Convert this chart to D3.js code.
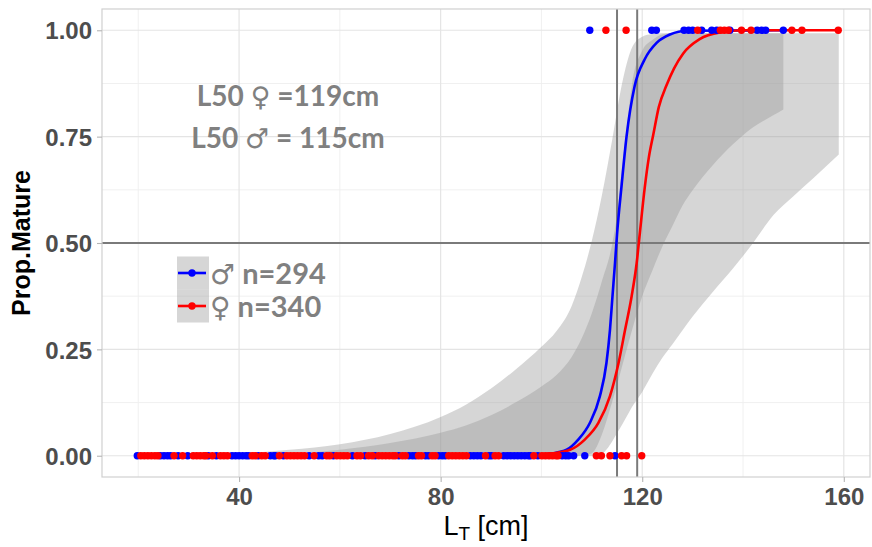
<!DOCTYPE html>
<html>
<head>
<meta charset="utf-8">
<script src="https://cdn.jsdelivr.net/npm/d3@7"></script>
<style>
  body { margin: 0; background: #ffffff; }
  svg { display: block; }
</style>
</head>
<body>
<svg id="chart" width="872" height="547"></svg>
<script>
// ---------------- data ----------------
const sexSymbols = ["♂", "♀"];
const sexColors = ["#0000ff", "#ff0000"];
const sampleSizes = [294, 340];
const l50Values = [119, 115];            // female, male (cm)
const l50Symbols = ["♀", "♂"];

const xTicks = [40, 80, 120, 160];
const xMinor = [20, 60, 100, 140];
const yTicks = [0, 0.25, 0.5, 0.75, 1];
const yMinor = [0.125, 0.375, 0.625, 0.875];

// immature individuals (Prop.Mature = 0), total length in cm
const maleImmature = [19.8, 24.4, 25.1, 25.8, 26.4, 27.9, 29.8, 33.9, 35.5, 38.6, 39.3, 40.0, 40.7, 41.4,
  41.9, 43.8, 46.2, 46.9, 47.2, 48.8, 53.9, 55.8, 56.5, 58.7, 62.5, 65.0, 67.0, 71.7, 73.7, 74.4, 75.0,
  77.0, 77.6, 79.6, 80.3, 80.9, 85.9, 86.6, 87.3, 88.0, 89.6, 90.1, 92.5, 93.2, 93.9, 94.6, 95.3, 96.0,
  96.7, 97.4, 97.8, 99.3, 104.1, 104.8, 105.4, 106.4, 108.6, 114.6];
const femaleImmature = [20.5, 21.2, 21.9, 22.6, 23.3, 23.9, 27.1, 28.8, 30.9, 31.6, 32.3, 33.0, 33.4,
  34.7, 36.3, 37.0, 37.7, 42.6, 43.2, 44.5, 45.2, 48.0, 49.5, 50.2, 50.9, 51.6, 52.3, 53.0, 54.9, 57.4,
  58.0, 59.4, 60.1, 60.8, 61.5, 63.4, 64.1, 65.7, 66.4, 67.7, 68.4, 69.1, 69.8, 70.5, 71.0, 72.4, 73.0,
  75.6, 76.2, 78.3, 78.9, 81.6, 82.3, 83.0, 83.7, 84.4, 85.1, 88.9, 90.8, 91.5, 98.5, 100.1, 100.8,
  101.5, 102.2, 102.9, 103.3, 110.9, 111.9, 113.6, 115.9, 116.9, 119.9];

// mature individuals (Prop.Mature = 1)
const maleMature = [109.6, 121.9, 122.8, 128.3, 129.2, 130, 131.8, 133.8, 134.8, 137.4, 142.8, 143.7, 144.5, 148];
const femaleMature = [112.8, 116.8, 131, 135.5, 136.3, 137.1, 139.7, 141.6, 149.7, 151.7, 158.9];

// fitted maturity ogives [LT, proportion]
const maleFit = [[20, 0], [90, 0], [98, 0.001], [102, 0.005], [105, 0.014], [107.3, 0.038], [109.6, 0.077],
  [111.6, 0.14], [112.9, 0.218], [113.6, 0.296], [114.1, 0.375], [114.6, 0.453], [115.0, 0.52],
  [115.9, 0.634], [116.9, 0.751], [118.5, 0.869], [120.5, 0.932], [122.9, 0.971], [125.5, 0.99],
  [129, 0.999], [148, 1]];
const femaleFit = [[20, 0], [90, 0], [98, 0.001], [102, 0.005], [105.7, 0.014], [108.6, 0.038],
  [111.3, 0.077], [113.6, 0.14], [115.3, 0.218], [116.6, 0.296], [117.9, 0.375], [118.9, 0.453],
  [119.5, 0.52], [120.5, 0.63], [121.3, 0.7], [122.2, 0.755], [123.3, 0.82], [124.8, 0.87],
  [126.3, 0.91], [128.1, 0.945], [131.4, 0.979], [135.4, 0.995], [140, 1], [159, 1]];

// confidence bands: LT, lower, upper
const maleBandLT = [20, 30, 40, 50, 60, 70, 80, 85, 90, 95, 100, 103, 106, 108, 110, 112, 114, 116, 118,
  120, 122, 124, 126, 128, 130, 134, 138, 142, 146, 148];
const maleBandLow = [0, 0, 0, 0, 0, 0, 0, 0, 0, 0, 0, 0, 0, 0, 0.006, 0.05, 0.125, 0.21, 0.296,
  0.375, 0.435, 0.492, 0.54, 0.588, 0.624, 0.683, 0.732, 0.772, 0.8, 0.814];
const maleBandHigh = [0, 0.001, 0.005, 0.014, 0.027, 0.051, 0.091, 0.12, 0.158, 0.204, 0.256, 0.293,
  0.352, 0.42, 0.505, 0.612, 0.74, 0.875, 0.96, 0.985, 0.991, 0.993, 0.993, 0.993, 0.993, 0.993,
  0.993, 0.993, 0.993, 0.993];

const femaleBandLT = [20, 30, 40, 50, 60, 70, 80, 85, 90, 95, 100, 103, 106, 108, 110, 112, 114, 115,
  116, 117, 118, 120, 122, 124, 126, 128, 130, 134, 138, 142, 146, 150, 154, 159];
const femaleBandLow = [0, 0, 0, 0, 0, 0, 0, 0, 0, 0, 0, 0, 0, 0, 0, 0.005, 0.033, 0.053, 0.073,
  0.094, 0.115, 0.15, 0.192, 0.23, 0.262, 0.295, 0.327, 0.385, 0.44, 0.5, 0.565, 0.61, 0.653, 0.708];
const femaleBandHigh = [0, 0, 0.001, 0.004, 0.014, 0.03, 0.054, 0.071, 0.095, 0.126, 0.163, 0.19,
  0.232, 0.276, 0.335, 0.41, 0.495, 0.565, 0.68, 0.78, 0.875, 0.952, 0.977, 0.99, 0.993, 0.993,
  0.993, 0.993, 0.993, 0.993, 0.993, 0.993, 0.993, 0.993];

// ---------------- layout ----------------
const panel = { left: 102, right: 870, top: 9, bottom: 477 };
const svg = d3.select("#chart");

const x = d3.scaleLinear().domain([12.8, 165.2]).range([panel.left, panel.right]);
const y = d3.scaleLinear().domain([-0.05, 1.05]).range([panel.bottom, panel.top]);

const gridMajor = "#e4e4e4", gridMinor = "#eeeeee";

// panel background
svg.append("rect").attr("x", panel.left).attr("y", panel.top)
  .attr("width", panel.right - panel.left).attr("height", panel.bottom - panel.top)
  .attr("fill", "#ffffff");

// grid
const grid = svg.append("g");
grid.selectAll(".xm").data(xMinor).join("line")
  .attr("x1", d => x(d)).attr("x2", d => x(d)).attr("y1", panel.top).attr("y2", panel.bottom)
  .attr("stroke", gridMinor).attr("stroke-width", 0.9);
grid.selectAll(".ym").data(yMinor).join("line")
  .attr("y1", d => y(d)).attr("y2", d => y(d)).attr("x1", panel.left).attr("x2", panel.right)
  .attr("stroke", gridMinor).attr("stroke-width", 0.9);
grid.selectAll(".xM").data(xTicks).join("line")
  .attr("x1", d => x(d)).attr("x2", d => x(d)).attr("y1", panel.top).attr("y2", panel.bottom)
  .attr("stroke", gridMajor).attr("stroke-width", 1.2);
grid.selectAll(".yM").data(yTicks).join("line")
  .attr("y1", d => y(d)).attr("y2", d => y(d)).attr("x1", panel.left).attr("x2", panel.right)
  .attr("stroke", gridMajor).attr("stroke-width", 1.2);

// confidence bands
const bandArea = d3.area()
  .x(d => x(d[0])).y0(d => y(d[1])).y1(d => y(d[2]))
  .curve(d3.curveMonotoneX);
const bands = [
  maleBandLT.map((v, i) => [v, maleBandLow[i], maleBandHigh[i]]),
  femaleBandLT.map((v, i) => [v, femaleBandLow[i], femaleBandHigh[i]])
];
svg.append("g").selectAll("path").data(bands).join("path")
  .attr("d", bandArea)
  .attr("fill", "#999999").attr("fill-opacity", 0.4);

// reference lines: 50% maturity and L50 of each sex
const refColor = "#7a7a7a";
svg.append("line")
  .attr("x1", panel.left).attr("x2", panel.right).attr("y1", y(0.5)).attr("y2", y(0.5))
  .attr("stroke", refColor).attr("stroke-width", 2);
svg.append("g").selectAll("line").data(l50Values).join("line")
  .attr("x1", d => x(d)).attr("x2", d => x(d)).attr("y1", panel.top).attr("y2", panel.bottom)
  .attr("stroke", refColor).attr("stroke-width", 2);

// fitted curves
const fitLine = d3.line().x(d => x(d[0])).y(d => y(d[1])).curve(d3.curveMonotoneX);
svg.append("g").selectAll("path").data([maleFit, femaleFit]).join("path")
  .attr("d", fitLine)
  .attr("fill", "none")
  .attr("stroke", (d, i) => sexColors[i])
  .attr("stroke-width", 2.6);

// observations
const obs = [
  { pts: maleImmature.map(v => [v, 0]).concat(maleMature.map(v => [v, 1])), color: sexColors[0] },
  { pts: femaleImmature.map(v => [v, 0]).concat(femaleMature.map(v => [v, 1])), color: sexColors[1] }
];
obs.forEach(g => {
  svg.append("g").selectAll("circle").data(g.pts).join("circle")
    .attr("cx", d => x(d[0])).attr("cy", d => y(d[1])).attr("r", 3.7)
    .attr("fill", g.color);
});

// panel border
svg.append("rect").attr("x", panel.left).attr("y", panel.top)
  .attr("width", panel.right - panel.left).attr("height", panel.bottom - panel.top)
  .attr("fill", "none").attr("stroke", "#d0d0d0").attr("stroke-width", 1.2);

// axes
const tickFont = "'Liberation Sans', Arial, sans-serif";
const yAxis = svg.append("g").attr("transform", `translate(${panel.left},0)`)
  .call(d3.axisLeft(y).tickValues(yTicks).tickFormat(d3.format(".2f")).tickSize(5).tickPadding(5));
const xAxis = svg.append("g").attr("transform", `translate(0,${panel.bottom})`)
  .call(d3.axisBottom(x).tickValues(xTicks).tickSize(5).tickPadding(6));
[yAxis, xAxis].forEach(a => {
  a.select(".domain").remove();
  a.selectAll(".tick line").attr("stroke", "#b5b5b5").attr("stroke-width", 1.1);
  a.selectAll(".tick text")
    .attr("fill", "#4d4d4d").style("font-family", tickFont)
    .style("font-size", "24px").style("font-weight", "bold");
});
yAxis.selectAll(".tick text").attr("dy", "0.36em");
xAxis.selectAll(".tick text").attr("dy", "0.72em");

// axis titles
svg.append("text")
  .attr("transform", `translate(30,${(panel.top + panel.bottom) / 2}) rotate(-90)`)
  .attr("text-anchor", "middle")
  .style("font-family", tickFont).style("font-size", "25px").style("font-weight", "bold")
  .attr("fill", "#000000").text("Prop.Mature");

const xTitle = svg.append("text")
  .attr("x", (panel.left + panel.right) / 2).attr("y", 535)
  .attr("text-anchor", "middle")
  .style("font-family", tickFont).style("font-size", "27px").attr("fill", "#000000");
xTitle.append("tspan").text("L");
xTitle.append("tspan").attr("dy", 5).style("font-size", "19px").text("T");
xTitle.append("tspan").attr("dy", -5).text(" [cm]");

// text with the sex symbol set in a symbol-capable face
const noteFont = "Lato, 'Open Sans', sans-serif";
const noteColor = "#808080";
function symbolText(sel, before, sym, after, symSize) {
  sel.append("tspan").text(before);
  sel.append("tspan").style("font-family", "'DejaVu Sans', sans-serif")
    .style("font-weight", "normal").style("font-size", symSize).text(sym);
  sel.append("tspan").text(after);
}

// L50 annotations
[0, 1].forEach(i => {
  const t = svg.append("text").attr("x", 288).attr("y", 106 + i * 42).attr("text-anchor", "middle")
    .style("font-family", noteFont).style("font-size", "28px").style("font-weight", "bold")
    .attr("fill", noteColor);
  symbolText(t, "L50 ", l50Symbols[i], i === 0 ? ` =${l50Values[i]}cm` : ` = ${l50Values[i]}cm`, "27px");
});

// legend
const legend = svg.append("g").attr("transform", "translate(177,256.5)");
const keyH = 33, keyW = 32;
sexSymbols.forEach((sym, i) => {
  const k = legend.append("g").attr("transform", `translate(0,${i * keyH})`);
  k.append("rect").attr("width", keyW).attr("height", keyH)
    .attr("fill", "#999999").attr("fill-opacity", 0.4);
  k.append("line").attr("x1", 1).attr("x2", keyW - 3).attr("y1", keyH / 2).attr("y2", keyH / 2)
    .attr("stroke", sexColors[i]).attr("stroke-width", 2.6);
  k.append("circle").attr("cx", 15).attr("cy", keyH / 2).attr("r", 3.7).attr("fill", sexColors[i]);
  const t = k.append("text").attr("x", keyW + 1).attr("y", keyH / 2 + 11)
    .style("font-family", noteFont).style("font-size", "29px").style("font-weight", "bold")
    .attr("fill", noteColor);
  symbolText(t, "", sym, ` n=${sampleSizes[i]}`, "28px");
});
</script>
</body>
</html>
